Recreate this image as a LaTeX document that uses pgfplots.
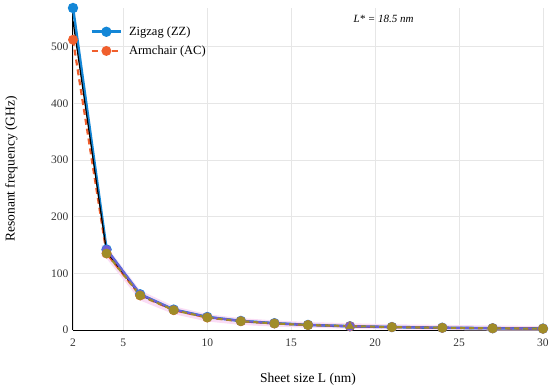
\documentclass[border=0pt]{standalone}
\usepackage{pgfplots}
\pgfplotsset{compat=1.18}
\usepackage{fontspec}
\setmainfont{Liberation Serif}
\definecolor{zzblue}{RGB}{20,135,215}
\definecolor{acorange}{RGB}{240,95,45}
\definecolor{purp}{RGB}{110,95,215}
\definecolor{olive2}{RGB}{160,140,40}
\definecolor{pinkband}{RGB}{250,220,245}
\definecolor{gridc}{RGB}{230,230,230}
\begin{document}
\begin{tikzpicture}
\useasboundingbox (-73pt,-59pt) rectangle (477pt,330pt);
\begin{axis}[
  scale only axis,
  width=470pt, height=322pt,
  xmin=2, xmax=30, ymin=0, ymax=568,
  xtick={2,5,10,15,20,25,30},
  ytick={0,100,200,300,400,500},
  axis x line*=bottom, axis y line*=left,
  axis line style={black, line width=1pt, -},
  grid=major, major grid style={gridc, line width=0.6pt},
  tick style={draw=none},
  tick label style={font=\fontsize{11.5}{13}\selectfont, text=black!80},
  xticklabel style={yshift=-5pt},
  yticklabel style={xshift=-1pt},
  /pgf/number format/assume math mode=true,
  xlabel={Sheet size L (nm)}, ylabel={Resonant frequency (GHz)},
  label style={font=\fontsize{13.5}{15}\selectfont},
  xlabel style={at={(axis description cs:0.5,0)}, anchor=north, yshift=-40pt},
  ylabel style={at={(axis description cs:0,0.5)}, anchor=south, xshift=0pt, yshift=52pt},
  clip=false,
  legend style={draw=none, fill=none, at={(0.030,0.955)}, anchor=north west,
    font=\fontsize{12.5}{14}\selectfont, row sep=5pt},
  legend cell align=left,
  legend image code/.code={\draw[mark repeat=2,mark phase=2,#1] plot coordinates {(0cm,0cm) (0.52cm,0cm) (1.04cm,0cm)};
    \path (1.2cm,0cm);},
]
% pink band (drawn first)
\addplot[fill=pinkband, draw=none, forget plot] coordinates {
 (3.7,150) (4,148) (6,70) (8,42) (10,28) (12,21) (14,17) (16,14) (18.5,12) (21,10) (24,9) (27,8) (30,7)
 (30,-1) (27,-1) (24,0) (21,1) (18.5,2) (16,4) (14,6) (12,9) (10,15) (8,28) (6,52) (4,126) (3.7,130)};
\addplot[zzblue, line width=2.6pt, mark=*, mark size=3.8pt] coordinates {
 (2,568) (4,142) (6,63) (8,36) (10,23) (12,16) (14,12) (16,9) (18.5,6.6) (21,5.2) (24,4) (27,3.1) (30,2.5)};
\addlegendentry{Zigzag (ZZ)}
\addplot[acorange, line width=2.2pt, dash pattern=on 6pt off 4pt, mark=*, mark size=3.8pt, mark options={solid}] coordinates {
 (2,512) (4,135) (6,61) (8,35) (10,22) (12,15.5) (14,11.5) (16,8.8) (18.5,6.5) (21,5.1) (24,3.9) (27,3.0) (30,2.4)};
\addlegendentry{Armchair (AC)}
\addplot[black, line width=1.2pt, forget plot] coordinates {
 (2,545) (4,138) (6,62) (8,35.5) (10,22.5) (12,15.7) (14,11.7) (16,8.9) (18.5,6.5) (21,5.1) (24,3.9) (27,3.0) (30,2.4)};
\addplot[purp, line width=2pt, mark=*, mark size=3.5pt, forget plot] coordinates {
 (4,142) (6,63) (8,36) (10,23) (12,16) (14,12) (16,9) (18.5,6.6) (21,5.2) (24,4) (27,3.1) (30,2.5)};
\addplot[olive2, line width=2pt, dash pattern=on 5pt off 4pt, mark=*, mark size=3.8pt, mark options={solid}, forget plot] coordinates {
 (4,135) (6,61) (8,35) (10,22) (12,15.5) (14,11.5) (16,8.8) (21,5.1) (24,3.9) (27,3.0) (30,2.4)};
\addplot[olive2, only marks, mark=triangle*, mark size=4.5pt, forget plot] coordinates {(18.5,6.5)};
\node[font=\itshape\fontsize{11}{13}\selectfont] at (axis cs:20.5,549) {L* = 18.5 nm};
\end{axis}
\end{tikzpicture}
\end{document}
